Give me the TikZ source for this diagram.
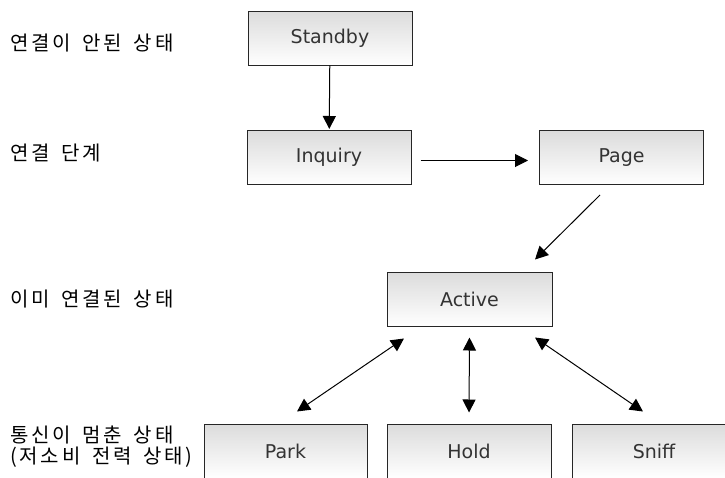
\documentclass[tikz,border=0pt]{standalone}
\usepackage{fontspec}
\usetikzlibrary{arrows.meta,calc}
\newfontfamily\krfont[LetterSpace=14,WordSpace=1.6]{Noto Sans CJK KR}
\newfontfamily\boxfont{DejaVu Sans}
\begin{document}
\begin{tikzpicture}[x=1pt,y=-1pt,
  state/.style={draw=black!85, line width=1pt, top color=black!14, bottom color=white,
    minimum width=164pt, minimum height=54pt, inner sep=0pt,
    font=\boxfont\fontsize{19}{19}\selectfont, text=black!80},
  lbl/.style={anchor=west, inner sep=0pt, align=left,
    font=\krfont\fontsize{20}{21}\selectfont},
  link/.style={line width=1pt, -{Triangle[length=13pt,width=13pt]}},
  both/.style={line width=1pt, {Triangle[length=13pt,width=13pt]}-{Triangle[length=13pt,width=13pt]}}]
\useasboundingbox (0,0) rectangle (725,477);
\clip (0,0) rectangle (725,477);

% state boxes
\node[state] (standby) at (330,38) {Standby};
\node[state] (inquiry) at (329,157.5) {Inquiry};
\node[state] (page) at (621.5,157.5) {Page};
\node[state, minimum width=165pt] (active) at (469.5,299) {Active};
\node[state, minimum width=163pt] (park) at (285.5,451) {Park};
\node[state] (hold) at (469,451) {Hold};
\node[state] (sniff) at (654,451) {Sniff};

% row captions
\node[lbl] (cap1) at (10,43) {연결이 안된 상태};
\node[lbl] (cap2) at (10,153) {연결 단계};
\node[lbl] (cap3) at (10,299) {이미 연결된 상태};
\node[lbl] (cap4) at (10,446.5) {통신이 멈춘 상태\\(저소비 전력 상태)};

% transitions
\draw[link, shorten >=1pt] (standby) -- (inquiry);
\draw[link] ($(inquiry.east)+(9,3)$) -- ($(page.west)+(-11,3)$);
\draw[link] ($(page.south)+(-21.5,10)$) -- ($(active.north)+(65.5,-12)$);
\draw[both] ($(active.south)+(-65.5,12)$) -- ($(park.north)+(11.5,-12)$);
\draw[both] ($(active.south)+(0,11)$) -- ($(hold.north)+(0,-11)$);
\draw[both] ($(active.south)+(65.5,11)$) -- ($(sniff.north)+(-11,-12)$);
\end{tikzpicture}
\end{document}
